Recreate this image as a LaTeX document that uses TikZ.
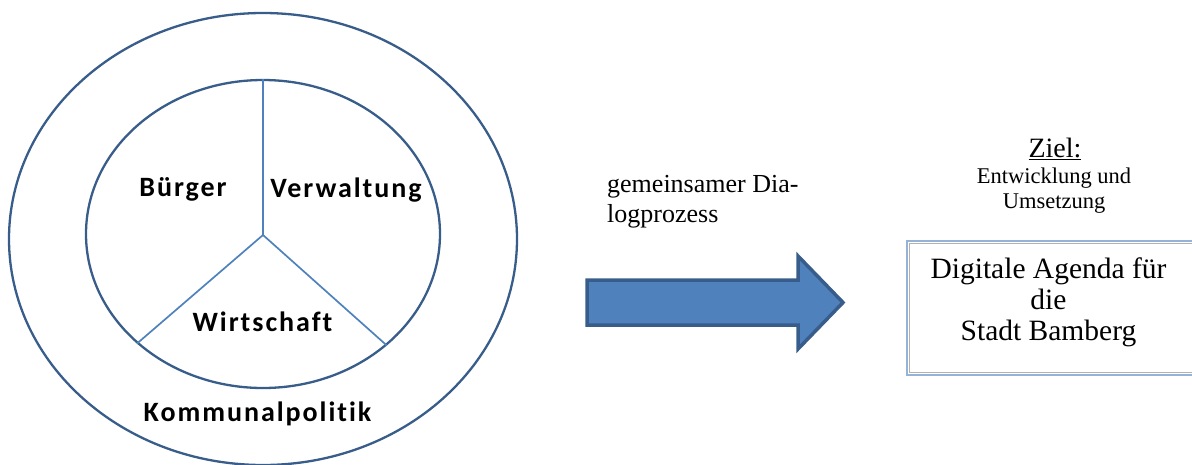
\documentclass[tikz,border=0pt]{standalone}
\usepackage{fontspec}
\setmainfont{Liberation Serif}
\newfontfamily\calfont[LetterSpace=7,Ligatures={NoCommon}]{Carlito}
\usetikzlibrary{shapes.geometric}
\definecolor{dblue}{RGB}{56,93,138}
\definecolor{mblue}{RGB}{79,129,189}
\definecolor{lblue}{RGB}{149,179,215}
\begin{document}
\begin{tikzpicture}[x=1pt,y=-1pt,
  ring/.style={ellipse,draw=dblue,line width=2.3pt,inner sep=0pt},
  spoke/.style={draw=mblue,line width=1.7pt},
  lbl/.style={font=\calfont\bfseries\fontsize{28}{31}\selectfont,inner sep=0pt,anchor=base},
  serif/.style={inner sep=0pt},
  arrowshape/.style={fill=mblue,draw=dblue,line width=3.5pt,line join=miter}]
\useasboundingbox (0,0) rectangle (1192,464);
% circles
\node[ring,minimum width=508pt,minimum height=452pt] (outer) at (263,239) {};
\node[ring,minimum width=354pt,minimum height=308pt] (inner) at (263,234) {};
\coordinate (hub) at (263,235);
\draw[spoke] (hub) -- (inner.north);
\draw[spoke] (hub) -- (inner.221.5);
\draw[spoke] (hub) -- (inner.318.5);
% labels
\node[lbl] (buerger) at (183,196) {Bürger};
\node[lbl] (verw) at (346,197) {Verwaltung};
\node[lbl] (wirt) at (262.5,331) {Wirtschaft};
\node[lbl] (komm) at (257.5,421) {Kommunalpolitik};
% dialogue text (base anchor = last line)
\node[serif,anchor=base west,align=left,font=\fontsize{26}{29.5}\selectfont] (dlg) at (607,222) {gemeinsamer Dia-\\logprozess};
% arrow
\draw[arrowshape] (587,280) -- (798,280) -- (798,256) -- (843,302.5) -- (798,349) -- (798,325) -- (587,325) -- cycle;
% goal
\node[serif,anchor=base,font=\fontsize{28}{30}\selectfont] (ziel) at (1055,157) {\underline{Ziel:}};
\node[serif,anchor=base,align=center,font=\fontsize{22.5}{25}\selectfont] (goal) at (1054,208) {Entwicklung und\\Umsetzung};
% box
\draw[draw=lblue,line width=2.5pt] (907,241) rectangle (1230,375);
\draw[draw=gray!60,line width=0.7pt] (909.5,243.5) rectangle (1230,372.5);
\node[serif,anchor=base,align=center,font=\fontsize{29.5}{31}\selectfont] (agenda) at (1048.5,340) {Digitale Agenda für\\die\\Stadt Bamberg};
\end{tikzpicture}
\end{document}
